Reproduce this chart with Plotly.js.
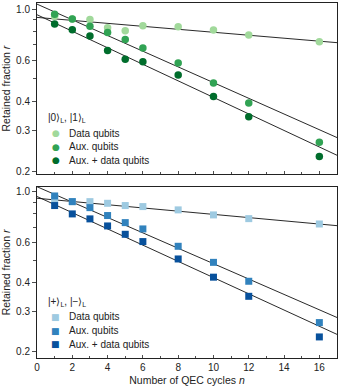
<!DOCTYPE html>
<html>
<head>
<meta charset="utf-8">
<script src="https://cdn.plot.ly/plotly-3.0.1.min.js"></script>
<style>
  html, body { margin: 0; padding: 0; background: #fff; }
  #chart { width: 341px; height: 389px; }
</style>
</head>
<body>
<div id="chart"></div>
<script>
// QEC cycles
const cycles = [1, 2, 3, 4, 5, 6, 8, 10, 12, 16];

// |0>L, |1>L panel
const zData = [0.93, 0.905, 0.902, 0.831, 0.806, 0.847, 0.839, 0.812, 0.772, 0.723];
const zAux = [0.949, 0.906, 0.842, 0.793, 0.738, 0.679, 0.585, 0.48, 0.393, 0.266];
const zBoth = [0.862, 0.814, 0.765, 0.663, 0.607, 0.593, 0.519, 0.42, 0.343, 0.231];

// |+>L, |->L panel
const xData = [0.93, 0.904, 0.904, 0.889, 0.869, 0.86, 0.832, 0.791, 0.762, 0.722];
const xAux = [0.957, 0.904, 0.851, 0.786, 0.732, 0.687, 0.577, 0.491, 0.406, 0.268];
const xBoth = [0.869, 0.799, 0.76, 0.708, 0.651, 0.605, 0.508, 0.423, 0.349, 0.232];

// exponential fits, read at n = 0 and n = 17
const fitN = [0, 17];
const zDataFit = [0.92, 0.716];
const zAuxFit = [1.05, 0.279];
const zBothFit = [0.945, 0.234];
const xDataFit = [0.935, 0.71];
const xAuxFit = [1.05, 0.282];
const xBothFit = [0.952, 0.238];

const labels = ["Data qubits", "Aux. qubits", "Aux. + data qubits"];
const greens = ["#a1d99b", "#31a354", "#006d2c"];
const blues = ["#9ecae1", "#3182bd", "#08519c"];

const FONT = "Liberation Sans, Arial, sans-serif";
const INK = "#222";

function fitTrace(y, ax) {
  return {
    x: fitN, y: y, mode: "lines", type: "scatter",
    line: { color: "#111", width: 0.9 },
    showlegend: false, hoverinfo: "skip",
    xaxis: ax[0], yaxis: ax[1],
  };
}

function pointTrace(y, i, colors, symbol, ax) {
  return {
    x: cycles, y: y, mode: "markers", type: "scatter",
    name: labels[i], showlegend: false,
    marker: { color: colors[i], size: symbol === "square" ? 7 : 7.5, symbol: symbol },
    xaxis: ax[0], yaxis: ax[1],
  };
}

const upperAx = ["x", "y"];
const lowerAx = ["x2", "y2"];

const traces = [
  fitTrace(zDataFit, upperAx), fitTrace(zAuxFit, upperAx), fitTrace(zBothFit, upperAx),
  pointTrace(zData, 0, greens, "circle", upperAx),
  pointTrace(zAux, 1, greens, "circle", upperAx),
  pointTrace(zBoth, 2, greens, "circle", upperAx),
  fitTrace(xDataFit, lowerAx), fitTrace(xAuxFit, lowerAx), fitTrace(xBothFit, lowerAx),
  pointTrace(xData, 0, blues, "square", lowerAx),
  pointTrace(xAux, 1, blues, "square", lowerAx),
  pointTrace(xBoth, 2, blues, "square", lowerAx),
];

function yAxis(domain, range, anchor) {
  return {
    domain: domain, type: "log", range: range, anchor: anchor,
    tickmode: "array",
    tickvals: [0.2, 0.3, 0.4, 0.6, 1.0],
    ticktext: ["0.2", "0.3", "0.4", "0.6", "1.0"],
    ticks: "outside", ticklen: 4, tickwidth: 0.8, tickcolor: INK,
    minor: { tickmode: "array", tickvals: [0.5, 0.7, 0.8, 0.9], ticks: "outside", ticklen: 3, tickwidth: 0.8, tickcolor: INK },
    showline: true, linecolor: INK, linewidth: 1, mirror: true,
    showgrid: false, zeroline: false,
    tickfont: { size: 10, color: INK, family: FONT },
    title: { text: "Retained fraction <i>r</i>", font: { size: 10.5, color: INK, family: FONT }, standoff: 3 },
  };
}

function xAxis(anchor, showLabels) {
  return {
    anchor: anchor, range: [0, 17],
    tickmode: "linear", tick0: 0, dtick: 2,
    ticks: "inside", ticklen: 3, tickwidth: 0.8, tickcolor: INK,
    minor: { dtick: 1, ticks: "inside", ticklen: 2, tickwidth: 0.8, tickcolor: INK },
    showticklabels: showLabels,
    showline: true, linecolor: INK, linewidth: 1, mirror: true,
    showgrid: false, zeroline: false,
    tickfont: { size: 10, color: INK, family: FONT },
  };
}

// hand-placed legend, one per panel
const legendRows = [0.24, 0.16, 0.08];
function legendNotes(xref, yref, title, colors, glyph, glyphSize) {
  const notes = [{
    xref: xref, yref: yref, x: 0.03, y: 0.327, xanchor: "left", yanchor: "middle",
    text: title, showarrow: false, font: { size: 10, color: INK, family: FONT },
  }];
  labels.forEach((lab, i) => {
    notes.push({
      xref: xref, yref: yref, x: 0.063, y: legendRows[i], xanchor: "center", yanchor: "middle",
      text: glyph, showarrow: false, font: { size: glyphSize, color: colors[i], family: "DejaVu Sans" },
    });
    notes.push({
      xref: xref, yref: yref, x: 0.1, y: legendRows[i], xanchor: "left", yanchor: "middle",
      text: lab, showarrow: false, font: { size: 10, color: INK, family: FONT },
    });
  });
  return notes;
}

const xAxisLower = xAxis("y2", true);
xAxisLower.title = { text: "Number of QEC cycles <i>n</i>", font: { size: 10.5, color: INK, family: FONT }, standoff: 4 };

const layout = {
  width: 341, height: 389,
  margin: { l: 37, r: 4, t: 3, b: 31 },
  paper_bgcolor: "#fff", plot_bgcolor: "#fff",
  font: { family: FONT, color: INK },
  showlegend: false,
  xaxis: xAxis("y", false),
  yaxis: yAxis([0.518, 1], [-0.712, 0.026], "x"),
  xaxis2: xAxisLower,
  yaxis2: yAxis([0, 0.482], [-0.7265, 0.0205], "x2"),
  annotations: [].concat(
    legendNotes("x domain", "y domain", "|0⟩<sub>L</sub>, |1⟩<sub>L</sub>", greens, "●", 9),
    legendNotes("x2 domain", "y2 domain", "|+⟩<sub>L</sub>, |−⟩<sub>L</sub>", blues, "■", 9)
  ),
};

Plotly.newPlot("chart", traces, layout, { staticPlot: true, displayModeBar: false });
</script>
</body>
</html>
